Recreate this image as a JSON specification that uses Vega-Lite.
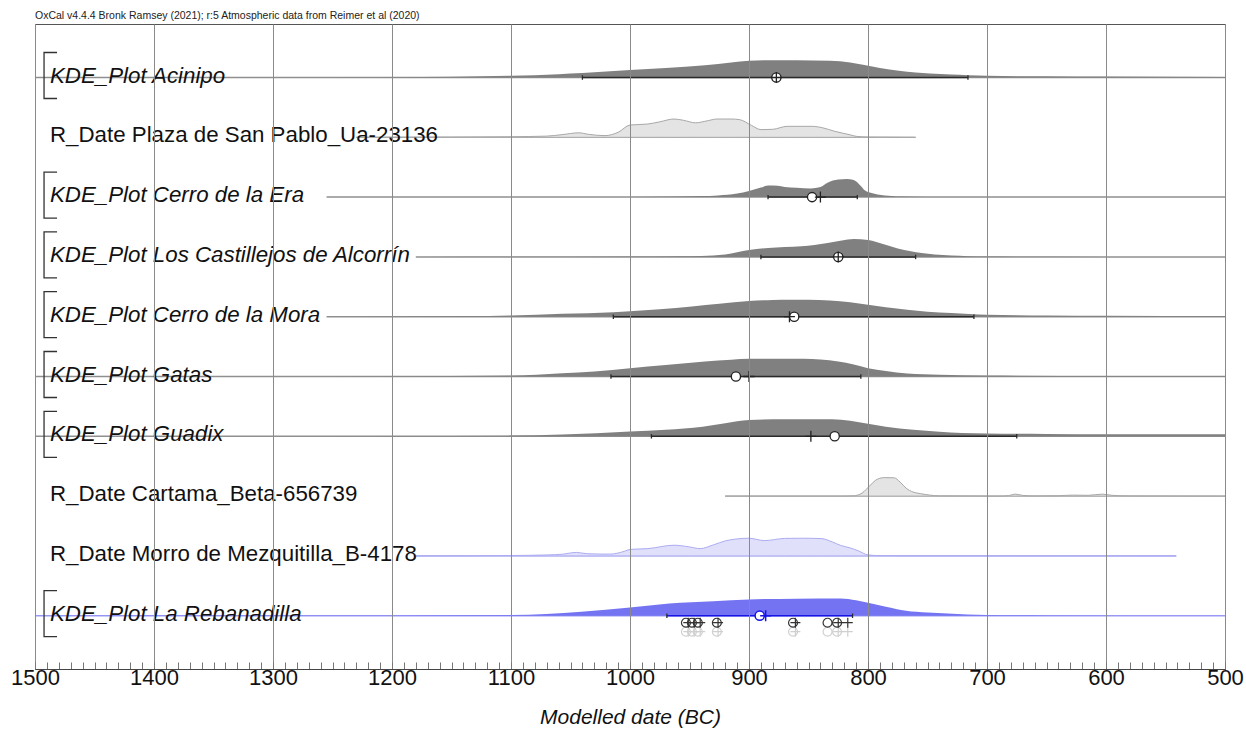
{
"$schema": "https://vega.github.io/schema/vega-lite/v6.json",
"width": 1190, "height": 645,
"autosize": "none",
"padding": {"left": 35, "top": 24, "right": 21, "bottom": 80},
"background": "white",
"title": {"text": "OxCal v4.4.4 Bronk Ramsey (2021); r:5 Atmospheric data from Reimer et al (2020)", "anchor": "start", "frame": "group", "fontSize": 10.5, "font": "Liberation Sans", "fontWeight": "normal", "color": "#222", "offset": 3},
"config": {"view": {"stroke": "#555", "strokeWidth": 1}, "font": "Liberation Sans"},
"datasets": {
"rows": [
{"s":"Acinipo","label":"KDE_Plot Acinipo","kind":"kde","lvl":9,"lo":1500,"hi":500,"b1":1040,"b2":716,"mean":877,"med":877},
{"s":"Plaza","label":"R_Date Plaza de San Pablo_Ua-23136","kind":"rd","lvl":8,"lo":1230,"hi":760},
{"s":"Era","label":"KDE_Plot Cerro de la Era","kind":"kde","lvl":7,"lo":1255,"hi":500,"b1":884,"b2":809,"mean":847,"med":840},
{"s":"Alcorrin","label":"KDE_Plot Los Castillejos de Alcorrín","kind":"kde","lvl":6,"lo":1180,"hi":500,"b1":890,"b2":760,"mean":825,"med":825},
{"s":"Mora","label":"KDE_Plot Cerro de la Mora","kind":"kde","lvl":5,"lo":1255,"hi":500,"b1":1014,"b2":711,"mean":862,"med":866},
{"s":"Gatas","label":"KDE_Plot Gatas","kind":"kde","lvl":4,"lo":1500,"hi":500,"b1":1016,"b2":806,"mean":911,"med":900},
{"s":"Guadix","label":"KDE_Plot Guadix","kind":"kde","lvl":3,"lo":1500,"hi":500,"b1":982,"b2":675,"mean":828,"med":848},
{"s":"Cartama","label":"R_Date Cartama_Beta-656739","kind":"rd","lvl":2,"lo":920,"hi":500},
{"s":"Morro","label":"R_Date Morro de Mezquitilla_B-4178","kind":"rdb","lvl":1,"lo":1180,"hi":541},
{"s":"Rebanadilla","label":"KDE_Plot La Rebanadilla","kind":"kdeb","lvl":0,"lo":1500,"hi":500,"b1":969,"b2":813,"mean":891,"med":886}
],
"dates": [{"yr":953},{"yr":948},{"yr":943},{"yr":927},{"yr":863},{"yr":834},{"yr":826}],
"dcross": [{"yr":951},{"yr":946},{"yr":941},{"yr":926},{"yr":861},{"yr":825},{"yr":817}],
"dens": [
{"s":"Acinipo","yr":1250,"d":0},{"s":"Acinipo","yr":1150,"d":0.8},{"s":"Acinipo","yr":1100,"d":1.7},{"s":"Acinipo","yr":1060,"d":3.3},{"s":"Acinipo","yr":1040,"d":4.4},{"s":"Acinipo","yr":1000,"d":7.5},{"s":"Acinipo","yr":970,"d":9.5},{"s":"Acinipo","yr":937,"d":12.3},{"s":"Acinipo","yr":915,"d":15},{"s":"Acinipo","yr":900,"d":16.8},{"s":"Acinipo","yr":887,"d":17.3},{"s":"Acinipo","yr":860,"d":17.3},{"s":"Acinipo","yr":832,"d":16.8},{"s":"Acinipo","yr":815,"d":15},{"s":"Acinipo","yr":803,"d":12.5},{"s":"Acinipo","yr":790,"d":9.5},{"s":"Acinipo","yr":774,"d":6.7},{"s":"Acinipo","yr":760,"d":5},{"s":"Acinipo","yr":748,"d":4},{"s":"Acinipo","yr":730,"d":3},{"s":"Acinipo","yr":716,"d":2.3},{"s":"Acinipo","yr":700,"d":1.7},{"s":"Acinipo","yr":650,"d":1.2},{"s":"Acinipo","yr":600,"d":0.9},{"s":"Acinipo","yr":500,"d":0.6},
{"s":"Plaza","yr":1230,"d":0},{"s":"Plaza","yr":1150,"d":0.3},{"s":"Plaza","yr":1100,"d":0.6},{"s":"Plaza","yr":1070,"d":1.2},{"s":"Plaza","yr":1057,"d":2.7},{"s":"Plaza","yr":1043,"d":4.5},{"s":"Plaza","yr":1035,"d":3},{"s":"Plaza","yr":1021,"d":1.7},{"s":"Plaza","yr":1010,"d":5},{"s":"Plaza","yr":1000,"d":12.3},{"s":"Plaza","yr":985,"d":13.3},{"s":"Plaza","yr":975,"d":15.5},{"s":"Plaza","yr":963,"d":18.3},{"s":"Plaza","yr":955,"d":17},{"s":"Plaza","yr":945,"d":14.5},{"s":"Plaza","yr":935,"d":16.5},{"s":"Plaza","yr":927,"d":18.3},{"s":"Plaza","yr":915,"d":18.3},{"s":"Plaza","yr":908,"d":17.7},{"s":"Plaza","yr":898,"d":12},{"s":"Plaza","yr":890,"d":7.7},{"s":"Plaza","yr":880,"d":8},{"s":"Plaza","yr":868,"d":11},{"s":"Plaza","yr":847,"d":11},{"s":"Plaza","yr":838,"d":9.5},{"s":"Plaza","yr":828,"d":6},{"s":"Plaza","yr":815,"d":2.5},{"s":"Plaza","yr":810,"d":1},{"s":"Plaza","yr":800,"d":0.3},{"s":"Plaza","yr":760,"d":0},
{"s":"Era","yr":1255,"d":0},{"s":"Era","yr":1000,"d":0.2},{"s":"Era","yr":960,"d":0.5},{"s":"Era","yr":940,"d":1},{"s":"Era","yr":926,"d":1.7},{"s":"Era","yr":910,"d":3.5},{"s":"Era","yr":900,"d":6},{"s":"Era","yr":890,"d":9.5},{"s":"Era","yr":884,"d":11.7},{"s":"Era","yr":876,"d":11.3},{"s":"Era","yr":870,"d":10},{"s":"Era","yr":860,"d":9.3},{"s":"Era","yr":848,"d":8.7},{"s":"Era","yr":840,"d":10},{"s":"Era","yr":834,"d":14.3},{"s":"Era","yr":825,"d":17.5},{"s":"Era","yr":818,"d":18},{"s":"Era","yr":812,"d":17},{"s":"Era","yr":806,"d":11},{"s":"Era","yr":803,"d":7},{"s":"Era","yr":797,"d":4},{"s":"Era","yr":792,"d":2.7},{"s":"Era","yr":780,"d":1.2},{"s":"Era","yr":772,"d":0.5},{"s":"Era","yr":750,"d":0.2},{"s":"Era","yr":700,"d":0},
{"s":"Alcorrin","yr":1180,"d":0},{"s":"Alcorrin","yr":1000,"d":0.3},{"s":"Alcorrin","yr":960,"d":0.6},{"s":"Alcorrin","yr":940,"d":1},{"s":"Alcorrin","yr":920,"d":2.5},{"s":"Alcorrin","yr":900,"d":7},{"s":"Alcorrin","yr":884,"d":9},{"s":"Alcorrin","yr":870,"d":10},{"s":"Alcorrin","yr":856,"d":10.7},{"s":"Alcorrin","yr":845,"d":12},{"s":"Alcorrin","yr":834,"d":14},{"s":"Alcorrin","yr":822,"d":16.5},{"s":"Alcorrin","yr":812,"d":18},{"s":"Alcorrin","yr":800,"d":17},{"s":"Alcorrin","yr":793,"d":15},{"s":"Alcorrin","yr":786,"d":12.3},{"s":"Alcorrin","yr":775,"d":8.5},{"s":"Alcorrin","yr":764,"d":5.7},{"s":"Alcorrin","yr":755,"d":3.8},{"s":"Alcorrin","yr":744,"d":2.3},{"s":"Alcorrin","yr":730,"d":1.3},{"s":"Alcorrin","yr":716,"d":0.7},{"s":"Alcorrin","yr":700,"d":0.3},{"s":"Alcorrin","yr":600,"d":0},
{"s":"Mora","yr":1250,"d":0},{"s":"Mora","yr":1200,"d":0.3},{"s":"Mora","yr":1136,"d":0.6},{"s":"Mora","yr":1100,"d":1.3},{"s":"Mora","yr":1057,"d":3},{"s":"Mora","yr":1014,"d":4.5},{"s":"Mora","yr":1000,"d":5.5},{"s":"Mora","yr":975,"d":7.5},{"s":"Mora","yr":948,"d":10.3},{"s":"Mora","yr":925,"d":13},{"s":"Mora","yr":900,"d":15.8},{"s":"Mora","yr":880,"d":16.8},{"s":"Mora","yr":865,"d":17},{"s":"Mora","yr":850,"d":17},{"s":"Mora","yr":832,"d":16.2},{"s":"Mora","yr":815,"d":14.5},{"s":"Mora","yr":800,"d":12},{"s":"Mora","yr":785,"d":9.5},{"s":"Mora","yr":767,"d":7},{"s":"Mora","yr":750,"d":5},{"s":"Mora","yr":730,"d":3.7},{"s":"Mora","yr":715,"d":2.7},{"s":"Mora","yr":700,"d":2},{"s":"Mora","yr":650,"d":1.3},{"s":"Mora","yr":600,"d":1},{"s":"Mora","yr":500,"d":0.7},
{"s":"Gatas","yr":1300,"d":0},{"s":"Gatas","yr":1200,"d":0.3},{"s":"Gatas","yr":1100,"d":1},{"s":"Gatas","yr":1057,"d":3.3},{"s":"Gatas","yr":1030,"d":5},{"s":"Gatas","yr":1000,"d":8.3},{"s":"Gatas","yr":970,"d":11.5},{"s":"Gatas","yr":937,"d":15},{"s":"Gatas","yr":915,"d":16.8},{"s":"Gatas","yr":900,"d":17.7},{"s":"Gatas","yr":854,"d":17.7},{"s":"Gatas","yr":840,"d":17},{"s":"Gatas","yr":825,"d":15},{"s":"Gatas","yr":812,"d":12},{"s":"Gatas","yr":800,"d":8.3},{"s":"Gatas","yr":785,"d":5.5},{"s":"Gatas","yr":767,"d":3},{"s":"Gatas","yr":740,"d":1.8},{"s":"Gatas","yr":700,"d":1},{"s":"Gatas","yr":600,"d":0.6},{"s":"Gatas","yr":500,"d":0.5},
{"s":"Guadix","yr":1300,"d":0},{"s":"Guadix","yr":1200,"d":0.3},{"s":"Guadix","yr":1100,"d":0.7},{"s":"Guadix","yr":1057,"d":1.7},{"s":"Guadix","yr":1000,"d":4.7},{"s":"Guadix","yr":970,"d":6.5},{"s":"Guadix","yr":939,"d":9.5},{"s":"Guadix","yr":920,"d":13},{"s":"Guadix","yr":900,"d":16.3},{"s":"Guadix","yr":870,"d":17},{"s":"Guadix","yr":830,"d":17},{"s":"Guadix","yr":815,"d":15.5},{"s":"Guadix","yr":800,"d":12.5},{"s":"Guadix","yr":785,"d":9.5},{"s":"Guadix","yr":762,"d":6.5},{"s":"Guadix","yr":740,"d":4.5},{"s":"Guadix","yr":721,"d":3.3},{"s":"Guadix","yr":700,"d":2.8},{"s":"Guadix","yr":650,"d":2.3},{"s":"Guadix","yr":600,"d":2.1},{"s":"Guadix","yr":500,"d":2},
{"s":"Cartama","yr":920,"d":0},{"s":"Cartama","yr":820,"d":0},{"s":"Cartama","yr":812,"d":0.3},{"s":"Cartama","yr":805,"d":3},{"s":"Cartama","yr":798,"d":11},{"s":"Cartama","yr":792,"d":17},{"s":"Cartama","yr":786,"d":18.5},{"s":"Cartama","yr":778,"d":18.3},{"s":"Cartama","yr":773,"d":14},{"s":"Cartama","yr":768,"d":8},{"s":"Cartama","yr":762,"d":4},{"s":"Cartama","yr":756,"d":2.5},{"s":"Cartama","yr":748,"d":1},{"s":"Cartama","yr":740,"d":0.3},{"s":"Cartama","yr":690,"d":0},{"s":"Cartama","yr":682,"d":0.5},{"s":"Cartama","yr":676,"d":2},{"s":"Cartama","yr":670,"d":0.7},{"s":"Cartama","yr":660,"d":0.2},{"s":"Cartama","yr":640,"d":0.4},{"s":"Cartama","yr":628,"d":1},{"s":"Cartama","yr":615,"d":0.8},{"s":"Cartama","yr":603,"d":2},{"s":"Cartama","yr":595,"d":0.8},{"s":"Cartama","yr":580,"d":0.2},{"s":"Cartama","yr":540,"d":0.1},{"s":"Cartama","yr":500,"d":0},
{"s":"Morro","yr":1180,"d":0},{"s":"Morro","yr":1100,"d":0.4},{"s":"Morro","yr":1070,"d":1},{"s":"Morro","yr":1057,"d":1.7},{"s":"Morro","yr":1045,"d":3.5},{"s":"Morro","yr":1036,"d":2.2},{"s":"Morro","yr":1017,"d":1.8},{"s":"Morro","yr":1005,"d":4.5},{"s":"Morro","yr":1000,"d":6.5},{"s":"Morro","yr":985,"d":7.3},{"s":"Morro","yr":963,"d":10.7},{"s":"Morro","yr":950,"d":9},{"s":"Morro","yr":941,"d":7.3},{"s":"Morro","yr":930,"d":11},{"s":"Morro","yr":920,"d":15},{"s":"Morro","yr":910,"d":17},{"s":"Morro","yr":900,"d":17.7},{"s":"Morro","yr":887,"d":15.3},{"s":"Morro","yr":870,"d":17.5},{"s":"Morro","yr":855,"d":17.7},{"s":"Morro","yr":839,"d":17.3},{"s":"Morro","yr":830,"d":14},{"s":"Morro","yr":823,"d":10.5},{"s":"Morro","yr":815,"d":8},{"s":"Morro","yr":808,"d":5},{"s":"Morro","yr":800,"d":1},{"s":"Morro","yr":790,"d":0.3},{"s":"Morro","yr":760,"d":0.1},{"s":"Morro","yr":541,"d":0},
{"s":"Rebanadilla","yr":1500,"d":0},{"s":"Rebanadilla","yr":1300,"d":0.2},{"s":"Rebanadilla","yr":1200,"d":0.3},{"s":"Rebanadilla","yr":1100,"d":0.7},{"s":"Rebanadilla","yr":1041,"d":4},{"s":"Rebanadilla","yr":1000,"d":8.3},{"s":"Rebanadilla","yr":967,"d":12.3},{"s":"Rebanadilla","yr":930,"d":14.5},{"s":"Rebanadilla","yr":900,"d":16.3},{"s":"Rebanadilla","yr":860,"d":17},{"s":"Rebanadilla","yr":823,"d":17.3},{"s":"Rebanadilla","yr":810,"d":15.5},{"s":"Rebanadilla","yr":800,"d":13},{"s":"Rebanadilla","yr":785,"d":9},{"s":"Rebanadilla","yr":768,"d":5},{"s":"Rebanadilla","yr":750,"d":3.3},{"s":"Rebanadilla","yr":733,"d":2.3},{"s":"Rebanadilla","yr":700,"d":0.7},{"s":"Rebanadilla","yr":650,"d":0.3},{"s":"Rebanadilla","yr":500,"d":0}
]
},
"layer": [
{"data": {"name": "rows"}, "transform": [{"filter": "datum.kind === 'kde'"}],
 "mark": {"type": "rule", "color": "#8f8f8f", "strokeWidth": 1.5},
 "encoding": {
  "x": {"field": "lo", "type": "quantitative", "scale": {"domain": [1500, 500], "nice": false, "zero": false},
   "axis": {"values": [1500,1490,1480,1470,1460,1450,1440,1430,1420,1410,1400,1390,1380,1370,1360,1350,1340,1330,1320,1310,1300,1290,1280,1270,1260,1250,1240,1230,1220,1210,1200,1190,1180,1170,1160,1150,1140,1130,1120,1110,1100,1090,1080,1070,1060,1050,1040,1030,1020,1010,1000,990,980,970,960,950,940,930,920,910,900,890,880,870,860,850,840,830,820,810,800,790,780,770,760,750,740,730,720,710,700,690,680,670,660,650,640,630,620,610,600,590,580,570,560,550,540,530,520,510,500],
    "tickCount": 200,
    "format": "d", "labelExpr": "datum.value % 100 === 0 ? datum.label : ''",
    "labelFontSize": 22, "labelFont": "Liberation Sans", "labelColor": "#111", "labelOverlap": false, "labelFlush": false,
    "tickSize": -7, "tickColor": "#777", "tickWidth": 1, "labelPadding": 5,
    "domainColor": "#444", "domainWidth": 1.2,
    "grid": true, "gridColor": "#8a8a8a", "gridWidth": 1,
    "gridOpacity": {"condition": {"test": "datum.value % 100 === 0", "value": 1}, "value": 0},
    "title": "Modelled date (BC)", "titleFont": "Liberation Sans", "titleFontSize": 21, "titleFontStyle": "italic", "titleFontWeight": "normal", "titlePadding": 18, "titleColor": "#111",
    "zindex": 1}},
  "x2": {"field": "hi"},
  "y": {"field": "lvl", "type": "quantitative", "scale": {"domain": [-0.891, 9.895], "nice": false, "zero": false}, "axis": null}
 }},
{"data": {"name": "rows"}, "transform": [{"filter": "datum.kind === 'rd'"}],
 "mark": {"type": "rule", "color": "#b0b0b0", "strokeWidth": 1},
 "encoding": {"x": {"field": "lo", "type": "quantitative"}, "x2": {"field": "hi"}, "y": {"field": "lvl", "type": "quantitative"}}},
{"data": {"name": "rows"}, "transform": [{"filter": "datum.kind === 'rdb'"}],
 "mark": {"type": "rule", "color": "#a8a8f2", "strokeWidth": 1.3},
 "encoding": {"x": {"field": "lo", "type": "quantitative"}, "x2": {"field": "hi"}, "y": {"field": "lvl", "type": "quantitative"}}},
{"data": {"name": "rows"}, "transform": [{"filter": "datum.kind === 'kdeb'"}],
 "mark": {"type": "rule", "color": "#9a9af5", "strokeWidth": 1.5},
 "encoding": {"x": {"field": "lo", "type": "quantitative"}, "x2": {"field": "hi"}, "y": {"field": "lvl", "type": "quantitative"}}},
{"data": {"name": "dens"},
 "transform": [{"lookup": "s", "from": {"data": {"name": "rows"}, "key": "s", "fields": ["lvl", "kind"]}}, {"filter": "datum.kind === 'kde'"}, {"calculate": "datum.lvl + datum.d / 59.8", "as": "top"}],
 "mark": {"type": "area", "interpolate": "monotone", "color": "#808080"},
 "encoding": {"x": {"field": "yr", "type": "quantitative"}, "y": {"field": "top", "type": "quantitative"}, "y2": {"field": "lvl"}, "detail": {"field": "s"}}},
{"data": {"name": "dens"},
 "transform": [{"lookup": "s", "from": {"data": {"name": "rows"}, "key": "s", "fields": ["lvl", "kind"]}}, {"filter": "datum.kind === 'rd'"}, {"calculate": "datum.lvl + datum.d / 59.8", "as": "top"}],
 "mark": {"type": "area", "interpolate": "monotone", "fill": "#e4e4e4", "stroke": "#a8a8a8", "strokeWidth": 1},
 "encoding": {"x": {"field": "yr", "type": "quantitative"}, "y": {"field": "top", "type": "quantitative"}, "y2": {"field": "lvl"}, "detail": {"field": "s"}}},
{"data": {"name": "dens"},
 "transform": [{"lookup": "s", "from": {"data": {"name": "rows"}, "key": "s", "fields": ["lvl", "kind"]}}, {"filter": "datum.kind === 'rdb'"}, {"calculate": "datum.lvl + datum.d / 59.8", "as": "top"}],
 "mark": {"type": "area", "interpolate": "monotone", "fill": "#e0e0fa", "stroke": "#acacf2", "strokeWidth": 1},
 "encoding": {"x": {"field": "yr", "type": "quantitative"}, "y": {"field": "top", "type": "quantitative"}, "y2": {"field": "lvl"}, "detail": {"field": "s"}}},
{"data": {"name": "dens"},
 "transform": [{"lookup": "s", "from": {"data": {"name": "rows"}, "key": "s", "fields": ["lvl", "kind"]}}, {"filter": "datum.kind === 'kdeb'"}, {"calculate": "datum.lvl + datum.d / 59.8", "as": "top"}],
 "mark": {"type": "area", "interpolate": "monotone", "color": "#7474f2"},
 "encoding": {"x": {"field": "yr", "type": "quantitative"}, "y": {"field": "top", "type": "quantitative"}, "y2": {"field": "lvl"}, "detail": {"field": "s"}}},
{"data": {"name": "rows"}, "transform": [{"filter": "datum.kind === 'kde'"}],
 "mark": {"type": "rule", "color": "#2a2a2a", "strokeWidth": 1.5},
 "encoding": {"x": {"field": "b1", "type": "quantitative"}, "x2": {"field": "b2"}, "y": {"field": "lvl", "type": "quantitative"}}},
{"data": {"name": "rows"}, "transform": [{"filter": "datum.kind === 'kdeb'"}],
 "mark": {"type": "rule", "color": "#1515e8", "strokeWidth": 1.5},
 "encoding": {"x": {"field": "b1", "type": "quantitative"}, "x2": {"field": "b2"}, "y": {"field": "lvl", "type": "quantitative"}}},
{"data": {"name": "rows"}, "transform": [{"filter": "datum.kind === 'kde' || datum.kind === 'kdeb'"}, {"fold": ["b1", "b2"], "as": ["end", "pos"]}],
 "mark": {"type": "point", "shape": "M0,-1V1", "size": 20, "filled": false, "strokeWidth": 1.3, "color": "#2a2a2a", "opacity": 1},
 "encoding": {"x": {"field": "pos", "type": "quantitative"}, "y": {"field": "lvl", "type": "quantitative"}}},
{"data": {"name": "rows"}, "transform": [{"filter": "datum.kind === 'kde'"}],
 "mark": {"type": "point", "shape": "circle", "size": 85, "filled": true, "fill": "white", "stroke": "#222", "strokeWidth": 1.3, "opacity": 1},
 "encoding": {"x": {"field": "mean", "type": "quantitative"}, "y": {"field": "lvl", "type": "quantitative"}}},
{"data": {"name": "rows"}, "transform": [{"filter": "datum.kind === 'kdeb'"}],
 "mark": {"type": "point", "shape": "circle", "size": 85, "filled": true, "fill": "white", "stroke": "#1515e8", "strokeWidth": 1.5, "opacity": 1},
 "encoding": {"x": {"field": "mean", "type": "quantitative"}, "y": {"field": "lvl", "type": "quantitative"}}},
{"data": {"name": "rows"}, "transform": [{"filter": "datum.kind === 'kde'"}],
 "mark": {"type": "point", "shape": "M-1,0H1M0,-1V1", "size": 121, "filled": false, "stroke": "#222", "strokeWidth": 1.3, "opacity": 1},
 "encoding": {"x": {"field": "med", "type": "quantitative"}, "y": {"field": "lvl", "type": "quantitative"}}},
{"data": {"name": "rows"}, "transform": [{"filter": "datum.kind === 'kdeb'"}],
 "mark": {"type": "point", "shape": "M-1,0H1M0,-1V1", "size": 121, "filled": false, "stroke": "#1515e8", "strokeWidth": 1.5, "opacity": 1},
 "encoding": {"x": {"field": "med", "type": "quantitative"}, "y": {"field": "lvl", "type": "quantitative"}}},
{"data": {"name": "dates"},
 "mark": {"type": "point", "shape": "circle", "size": 80, "filled": false, "stroke": "#d0d0d0", "strokeWidth": 1.2, "opacity": 1, "yOffset": 16},
 "encoding": {"x": {"field": "yr", "type": "quantitative"}, "y": {"datum": 0}}},
{"data": {"name": "dcross"},
 "mark": {"type": "point", "shape": "M-1,0H1M0,-1V1", "size": 100, "filled": false, "stroke": "#d0d0d0", "strokeWidth": 1.2, "opacity": 1, "yOffset": 16},
 "encoding": {"x": {"field": "yr", "type": "quantitative"}, "y": {"datum": 0}}},
{"data": {"name": "dates"},
 "mark": {"type": "point", "shape": "circle", "size": 80, "filled": false, "stroke": "#333", "strokeWidth": 1.2, "opacity": 1, "yOffset": 7},
 "encoding": {"x": {"field": "yr", "type": "quantitative"}, "y": {"datum": 0}}},
{"data": {"name": "dcross"},
 "mark": {"type": "point", "shape": "M-1,0H1M0,-1V1", "size": 100, "filled": false, "stroke": "#333", "strokeWidth": 1.2, "opacity": 1, "yOffset": 7},
 "encoding": {"x": {"field": "yr", "type": "quantitative"}, "y": {"datum": 0}}},
{"data": {"name": "rows"}, "transform": [{"filter": "datum.kind === 'kde' || datum.kind === 'kdeb'"}],
 "mark": {"type": "point", "shape": "M0.52,-1H0V0.84H0.52", "size": 2500, "filled": false, "stroke": "#333", "strokeWidth": 1.3, "opacity": 1},
 "encoding": {"x": {"datum": 1492.4}, "y": {"field": "lvl", "type": "quantitative"}}},
{"data": {"name": "rows"}, "transform": [{"filter": "datum.kind === 'kde' || datum.kind === 'kdeb'"}],
 "mark": {"type": "text", "align": "left", "baseline": "alphabetic", "dy": 5, "fontSize": 22.3, "font": "Liberation Sans", "fontStyle": "italic", "color": "#111"},
 "encoding": {"x": {"datum": 1487.4}, "y": {"field": "lvl", "type": "quantitative"}, "text": {"field": "label"}}},
{"data": {"name": "rows"}, "transform": [{"filter": "datum.kind === 'rd' || datum.kind === 'rdb'"}],
 "mark": {"type": "text", "align": "left", "baseline": "alphabetic", "dy": 5, "fontSize": 22.3, "font": "Liberation Sans", "color": "#111"},
 "encoding": {"x": {"datum": 1487.4}, "y": {"field": "lvl", "type": "quantitative"}, "text": {"field": "label"}}}
]
}
